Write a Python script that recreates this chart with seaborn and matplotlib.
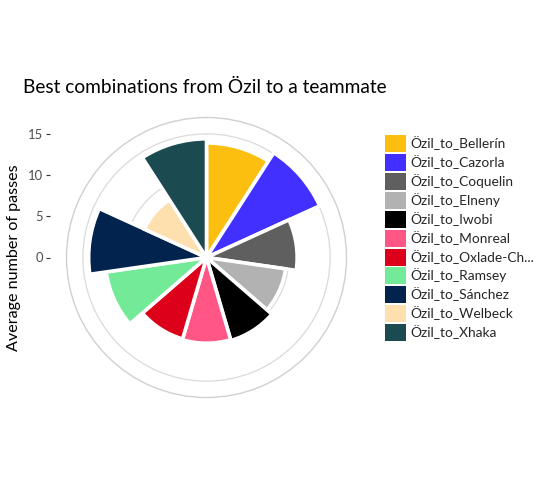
import numpy as np
import matplotlib
matplotlib.use("Agg")
import matplotlib.pyplot as plt
import seaborn as sns
from matplotlib.patches import Patch

# Data
players = ["Özil_to_Bellerín", "Özil_to_Cazorla", "Özil_to_Coquelin", "Özil_to_Elneny",
           "Özil_to_Iwobi", "Özil_to_Monreal", "Özil_to_Oxlade-Ch...", "Özil_to_Ramsey",
           "Özil_to_Sánchez", "Özil_to_Welbeck", "Özil_to_Xhaka"]
avg_passes = [13.9, 15.1, 11.0, 9.7, 10.5, 10.4, 10.3, 12.3, 14.3, 8.3, 14.4]
colors = ["#FDBF0F", "#4130FF", "#5F5F5F", "#B2B2B2", "#000000", "#FF5685",
          "#DC001B", "#72EA98", "#03234F", "#FDE0AD", "#1B4B50"]
r_ticks = [0, 5, 10, 15]

sns.set_theme(style="white")
plt.rcParams["font.family"] = ["Lato", "DejaVu Sans"]

W, H = 540, 494
fig = plt.figure(figsize=(W / 100, H / 100), dpi=100)

n = len(players)
step = 2 * np.pi / n
theta = (np.arange(n) + 0.5) * step
rmax = max(avg_passes) * 1.125  # ggplot: data -> 0.4, outer circle at 0.45

# polar panel: center (206,258), outer radius 140 px
cx, cy, rad = 206.5, 257.5, 140
ax = fig.add_axes([(cx - rad) / W, 1 - (cy + rad) / H, 2 * rad / W, 2 * rad / H],
                  projection="polar")
ax.set_theta_zero_location("N")
ax.set_theta_direction(-1)
ax.set_ylim(0, rmax)
ax.set_rticks(r_ticks[1:])
ax.set_yticklabels([])
ax.set_xticks([])
ax.yaxis.grid(True, color="#DADADA", linewidth=0.9)
ax.xaxis.grid(False)
ax.spines["polar"].set_color("#D0D0D0")
ax.spines["polar"].set_linewidth(1.0)
ax.set_axisbelow(True)

ax.bar(theta, avg_passes, width=step, color=colors, edgecolor="white", linewidth=2.6)

# left radial axis like ggplot
ax2 = fig.add_axes([50 / W, 1 - (cy + rad) / H, 0.0005, 2 * rad / H])
ax2.set_ylim(-rmax, rmax)
ax2.set_yticks(r_ticks)
ax2.set_yticklabels([str(t) for t in r_ticks])
ax2.set_xticks([])
for s in ax2.spines.values():
    s.set_visible(False)
ax2.patch.set_alpha(0)
ax2.tick_params(axis="y", left=True, length=3.2, width=0.8, color="#333333",
                labelsize=9.4, labelcolor="#4D4D4D", pad=2)

fig.text(14 / W, 1 - 258 / H, "Average number of passes", rotation=90,
         ha="center", va="center", fontsize=11.6, color="black")
fig.text(23 / W, 1 - 93 / H, "Best combinations from Özil to a teammate",
         ha="left", va="baseline", fontsize=13.8, color="black")

handles = [Patch(facecolor=c, edgecolor="none") for c in colors]
fs = 9.9
fs_px = fs * 100 / 72
fig.legend(handles, players, loc="upper left", bbox_to_anchor=(385 / W, 1 - 135 / H),
           frameon=False, fontsize=fs, borderpad=0, borderaxespad=0,
           handlelength=21 / fs_px, handleheight=21 / fs_px,
           labelspacing=(22.9 - 21) / fs_px, handletextpad=4 / fs_px)

fig.savefig("out.png", dpi=100)
